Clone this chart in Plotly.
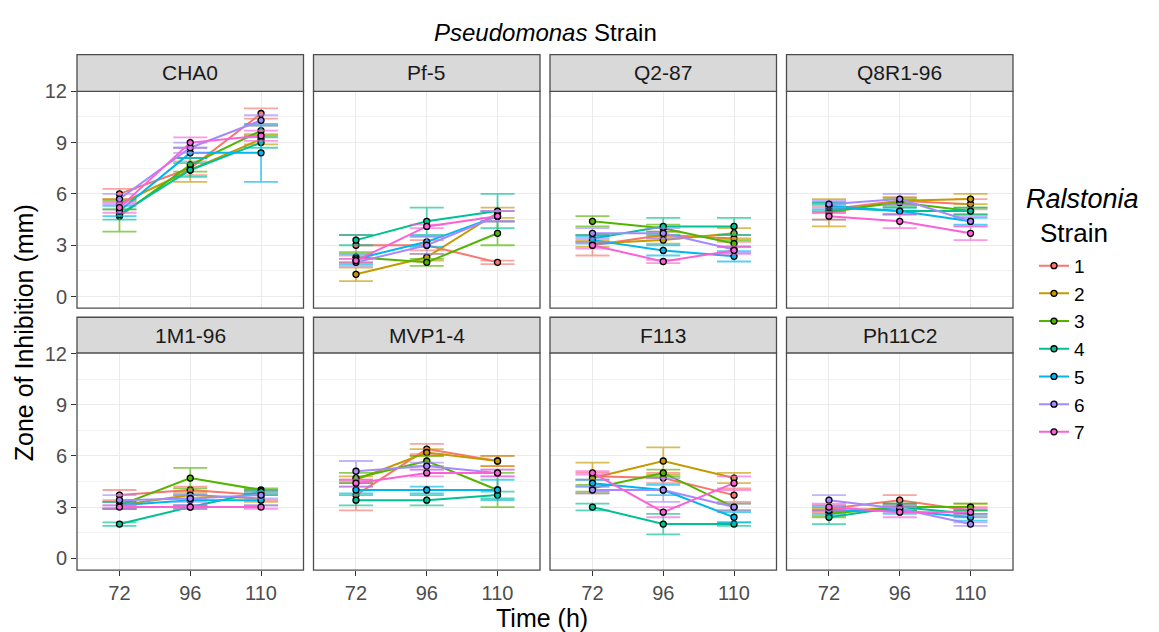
import plotly.graph_objects as go

W, H = 1159, 632

times = ["72", "96", "110"]
strains = ["1", "2", "3", "4", "5", "6", "7"]
colors = ["#F8766D", "#C49A00", "#53B400", "#00C094", "#00B6EB", "#A58AFF", "#FB61D7"]
panels = ["CHA0", "Pf-5", "Q2-87", "Q8R1-96", "1M1-96", "MVP1-4", "F113", "Ph11C2"]

# mean zone of inhibition (mm), one row per Ralstonia strain 1..7, columns 72/96/110 h
cha0_mean = [[6.0, 7.5, 10.7], [5.4, 7.4, 9.2], [4.7, 7.7, 9.7], [4.8, 7.4, 9.0],
             [5.0, 8.4, 8.4], [5.7, 8.7, 10.3], [5.2, 9.0, 9.4]]
cha0_sd = [[0.3, 0.4, 0.3], [0.3, 0.7, 0.3], [0.9, 0.4, 0.3], [0.3, 0.4, 0.3],
           [0.3, 0.3, 1.7], [0.3, 0.3, 0.3], [0.3, 0.3, 0.3]]

pf5_mean = [[3.0, 3.0, 2.0], [1.3, 2.3, 4.9], [2.3, 2.0, 3.7], [3.3, 4.4, 5.0],
            [2.2, 3.2, 4.7], [2.0, 3.0, 4.7], [2.1, 4.1, 4.7]]
pf5_sd = [[0.6, 0.3, 0.1], [0.4, 0.2, 0.3], [0.3, 0.2, 0.7], [0.3, 0.8, 1.0],
          [0.3, 0.3, 0.3], [0.2, 0.5, 0.3], [0.1, 0.1, 0.3]]

q287_mean = [[3.0, 3.6, 3.4], [3.1, 3.3, 3.7], [4.4, 4.0, 3.1], [3.4, 4.1, 4.1],
             [3.3, 2.7, 2.35], [3.7, 3.7, 2.75], [3.0, 2.05, 2.7]]
q287_sd = [[0.6, 0.2, 0.2], [0.2, 0.2, 0.3], [0.3, 0.2, 0.2], [0.2, 0.5, 0.5],
           [0.2, 0.3, 0.3], [0.3, 0.3, 0.2], [0.2, 0.1, 0.2]]

q8r1_mean = [[5.1, 5.6, 5.4], [4.9, 5.6, 5.7], [5.0, 5.5, 5.0], [5.2, 5.0, 5.0],
             [5.3, 5.0, 4.4], [5.4, 5.7, 4.4], [4.7, 4.4, 3.7]]
q8r1_sd = [[0.2, 0.2, 0.3], [0.8, 0.2, 0.3], [0.5, 0.2, 0.2], [0.2, 0.2, 0.2],
           [0.2, 0.2, 0.2], [0.2, 0.3, 0.3], [0.2, 0.4, 0.4]]

m1m1_mean = [[3.7, 4.0, 3.7], [3.1, 3.7, 3.5], [3.1, 4.7, 4.0], [2.0, 3.0, 3.9],
             [3.1, 3.4, 3.4], [3.4, 3.5, 3.7], [3.0, 3.0, 3.0]]
m1m1_sd = [[0.3, 0.2, 0.3], [0.2, 0.2, 0.2], [0.2, 0.6, 0.1], [0.1, 0.1, 0.1],
           [0.2, 0.3, 0.3], [0.3, 0.2, 0.2], [0.1, 0.1, 0.1]]

mvp_mean = [[3.7, 6.4, 5.7], [4.6, 6.2, 5.7], [4.7, 5.7, 4.0], [3.4, 3.4, 3.7],
            [4.0, 4.0, 4.0], [5.1, 5.4, 5.0], [4.4, 5.0, 5.0]]
mvp_sd = [[0.9, 0.3, 0.3], [0.2, 0.2, 0.3], [0.3, 0.3, 1.0], [0.3, 0.3, 0.2],
          [0.2, 0.2, 0.6], [0.6, 0.2, 0.2], [0.2, 0.2, 0.2]]

f113_mean = [[4.8, 4.7, 3.7], [4.7, 5.7, 4.7], [4.1, 5.0, 3.0], [3.0, 2.0, 2.0],
             [4.4, 4.0, 2.4], [4.0, 4.0, 3.0], [5.0, 2.7, 4.4]]
f113_sd = [[0.2, 0.3, 0.4], [0.9, 0.8, 0.3], [0.2, 0.2, 0.2], [0.2, 0.6, 0.1],
           [0.2, 0.3, 0.3], [0.2, 0.7, 0.2], [0.1, 0.3, 0.4]]

ph11_mean = [[2.9, 3.4, 2.8], [2.7, 3.0, 3.0], [2.6, 3.0, 3.0], [2.4, 3.0, 2.6],
             [2.8, 2.8, 2.4], [3.4, 2.9, 2.0], [3.0, 2.7, 2.7]]
ph11_sd = [[0.2, 0.3, 0.2], [0.2, 0.2, 0.2], [0.2, 0.2, 0.2], [0.4, 0.2, 0.2],
           [0.2, 0.2, 0.2], [0.3, 0.2, 0.1], [0.2, 0.3, 0.2]]

means = [cha0_mean, pf5_mean, q287_mean, q8r1_mean, m1m1_mean, mvp_mean, f113_mean, ph11_mean]
sds = [cha0_sd, pf5_sd, q287_sd, q8r1_sd, m1m1_sd, mvp_sd, f113_sd, ph11_sd]

def rgba(hexc, a):
    h = hexc.lstrip("#")
    return "rgba(%d,%d,%d,%.2f)" % (int(h[0:2], 16), int(h[2:4], 16), int(h[4:6], 16), a)

# layout geometry (pixels)
col_left = [77, 313.5, 550, 786.5]
pw = 226.5
rows_px = [(81.7, 302.3), (348.0, 569.0)]
strips_px = [(44.3, 81.7), (311.7, 348.0)]
yranges = [[-0.67, 12.0], [-0.7, 12.04]]

FONT = "Arial, Liberation Sans, sans-serif"
fig = go.Figure()
layout = {}
shapes = []
annotations = []

for p, name in enumerate(panels):
    r, c = divmod(p, 4)
    k = p + 1
    xa = "xaxis" if k == 1 else "xaxis%d" % k
    ya = "yaxis" if k == 1 else "yaxis%d" % k
    xref = "x" if k == 1 else "x%d" % k
    yref = "y" if k == 1 else "y%d" % k
    x0 = col_left[c] / W
    x1 = (col_left[c] + pw) / W
    ytop, ybot = rows_px[r]
    y0 = 1 - ybot / H
    y1 = 1 - ytop / H
    layout[xa] = dict(domain=[x0, x1], anchor=yref, type="category",
                      categoryorder="array", categoryarray=times,
                      range=[-0.6, 2.6], showgrid=True, gridcolor="#EBEBEB", gridwidth=1.2,
                      zeroline=False, showline=False,
                      ticks="outside" if r == 1 else "", ticklen=5, tickcolor="#333333",
                      showticklabels=(r == 1),
                      tickfont=dict(family=FONT, size=20, color="#4D4D4D"))
    layout[ya] = dict(domain=[y0, y1], anchor=xref, range=yranges[r],
                      tickvals=[0, 3, 6, 9, 12], showgrid=True, gridcolor="#EBEBEB", gridwidth=1.2,
                      minor=dict(tickvals=[1.5, 4.5, 7.5, 10.5], showgrid=True,
                                 gridcolor="#F2F2F2", gridwidth=0.8, ticks=""),
                      zeroline=False, showline=False,
                      ticks="outside" if c == 0 else "", ticklen=5, tickcolor="#333333",
                      showticklabels=(c == 0),
                      tickfont=dict(family=FONT, size=20, color="#4D4D4D"))
    # panel border
    shapes.append(dict(type="rect", xref="paper", yref="paper", x0=x0, x1=x1, y0=y0, y1=y1,
                       line=dict(color="#4D4D4D", width=1.3), fillcolor="rgba(0,0,0,0)", layer="above"))
    # strip
    st, sb = strips_px[r]
    shapes.append(dict(type="rect", xref="paper", yref="paper", x0=x0, x1=x1,
                       y0=1 - sb / H, y1=1 - st / H,
                       line=dict(color="#4D4D4D", width=1.3), fillcolor="#D9D9D9"))
    annotations.append(dict(text=name, xref="paper", yref="paper", x=(x0 + x1) / 2,
                            y=1 - (st + sb) / 2 / H, showarrow=False, xanchor="center", yanchor="middle",
                            font=dict(family=FONT, size=21, color="#1A1A1A")))
    for s in range(7):
        fig.add_trace(go.Scatter(
            x=times, y=means[p][s], xaxis=xref, yaxis=yref,
            mode="lines+markers", name=strains[s], legendgroup=strains[s],
            showlegend=(p == 0),
            line=dict(color=colors[s], width=2),
            marker=dict(color=colors[s], size=6, line=dict(color="black", width=1.3)),
            error_y=dict(type="data", array=sds[p][s], visible=True,
                         color=rgba(colors[s], 0.65), thickness=1.8, width=17),
        ))

annotations += [
    dict(text="<i>Pseudomonas</i> Strain", xref="paper", yref="paper", x=545 / W, y=1 - 22 / H,
         showarrow=False, xanchor="center", yanchor="middle",
         font=dict(family=FONT, size=24, color="black")),
    dict(text="Time (h)", xref="paper", yref="paper", x=542 / W, y=1 - 618 / H,
         showarrow=False, xanchor="center", yanchor="middle",
         font=dict(family=FONT, size=25, color="black")),
    dict(text="Zone of Inhibition (mm)", xref="paper", yref="paper", x=24 / W, y=1 - 328 / H,
         showarrow=False, xanchor="center", yanchor="middle", textangle=-90,
         font=dict(family=FONT, size=25, color="black")),
    dict(text="<i>Ralstonia</i>", xref="paper", yref="paper", x=1082 / W, y=1 - 191 / H,
         showarrow=False, xanchor="center", yanchor="middle",
         font=dict(family=FONT, size=27, color="black")),
    dict(text="Strain", xref="paper", yref="paper", x=1074 / W, y=1 - 226 / H,
         showarrow=False, xanchor="center", yanchor="middle",
         font=dict(family=FONT, size=26, color="black")),
]

fig.update_layout(
    width=W, height=H, margin=dict(l=0, r=0, t=0, b=0),
    paper_bgcolor="white", plot_bgcolor="white",
    shapes=shapes, annotations=annotations,
    legend=dict(x=1034 / W, y=1 - 240 / H, xanchor="left", yanchor="top",
                font=dict(family=FONT, size=19, color="black"),
                bgcolor="rgba(0,0,0,0)", itemwidth=30, tracegroupgap=0),
    **layout,
)

fig.write_html("out.html")
